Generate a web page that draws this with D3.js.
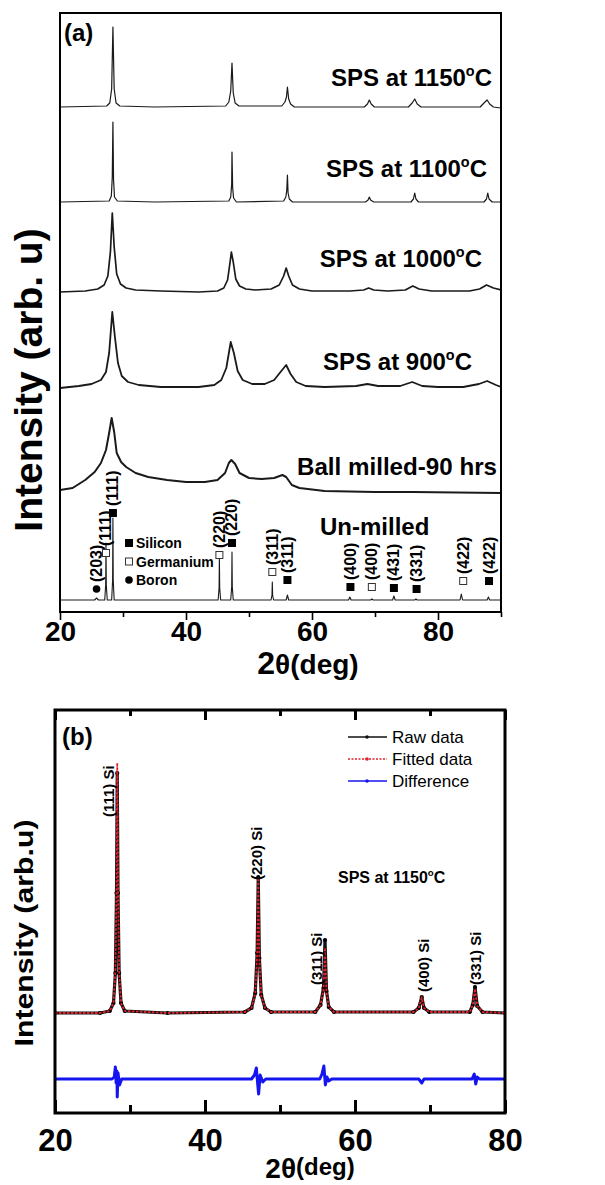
<!DOCTYPE html>
<html>
<head>
<meta charset="utf-8">
<script src="https://cdn.jsdelivr.net/npm/d3@7"></script>
<style>
body { margin: 0; background: #fff; }
text { font-family: "Liberation Sans", Arial, Helvetica, sans-serif; }
</style>
</head>
<body>
<svg id="chart" width="605" height="1185"></svg>
<script>
// ---------- data: panel (a) XRD patterns, [2theta, intensity above own baseline] ----------
const samplesA = ["1150", "1100", "1000", "900", "Ball milled-90 hrs", "Un-milled"];
const offsetsA = [505, 410, 320, 224, 118, 12];

const sps1150 = [[20,0],[27.4,1],[27.9,4],[28.2,18],[28.4,80],[28.6,18],[28.9,4],[29.5,1],[35,0],[46.3,1],[46.8,5],[47.1,16],[47.3,44],[47.5,14],[47.8,4],[48.4,1],[55.2,1],[55.7,5],[55.95,10],[56.1,20],[56.3,8],[56.6,3],[57.2,0],[68.3,0],[68.8,3],[69.1,7],[69.4,3],[69.9,0],[75.3,0],[75.9,4],[76.3,8],[76.7,3],[77.3,0],[86.7,0],[87.3,4],[87.8,7],[88.2,3],[88.8,0],[90,-1]];
const sps1100 = [[20,0],[27.8,1],[28.15,6],[28.3,25],[28.4,80],[28.5,22],[28.65,5],[29.1,1],[35,0],[46.8,1],[47.1,5],[47.25,18],[47.3,50],[47.4,15],[47.55,4],[48,0],[55.5,1],[55.85,5],[56,12],[56.1,27],[56.2,9],[56.4,3],[56.9,0],[68.5,0],[68.9,2],[69.1,5],[69.3,2],[69.8,0],[75.7,0],[76.1,3],[76.3,9],[76.5,3],[76.9,0],[87.3,0],[87.7,3],[87.9,9],[88.1,3],[88.6,0],[90,0]];
const sps1000 = [[20,0],[24,1],[26,3],[27,7],[27.6,16],[28,40],[28.3,79],[28.6,45],[29,18],[29.6,8],[30.5,4],[32,2],[36,1],[42,0],[45,1],[46,4],[46.6,12],[47,30],[47.2,40],[47.5,30],[47.9,13],[48.5,6],[49.5,3],[51,2],[53.5,3],[54.8,7],[55.5,16],[55.9,24],[56.3,16],[56.9,7],[58,3],[60,1],[66,1],[68.2,2],[69,4],[69.8,2],[72,1],[74.8,2],[76,6],[77,3],[79,1],[85,1],[86.6,3],[87.7,7],[88.8,4],[90,2]];
const sps900 = [[20,0],[23,2],[25,4],[26.5,8],[27.3,16],[27.8,35],[28.3,76],[28.7,52],[29.2,25],[29.8,12],[30.8,6],[32.5,3],[36,1],[42,1],[44.5,3],[45.6,8],[46.4,20],[47.1,46],[47.6,35],[48.2,17],[49,8],[50.5,4],[52.5,4],[54,8],[55,16],[55.9,23],[56.6,14],[57.5,6],[59,2],[62,1],[67,2],[68.8,4],[70.5,2],[74,2],[75.9,6],[77.5,2],[80,1],[84,1],[86.5,4],[87.8,7],[89.2,3],[90,1]];
const ballMilled = [[20,4],[22,6],[24,14],[25.5,22],[26.5,31],[27.3,44],[27.8,61],[28.2,76],[28.6,62],[29,41],[29.7,32],[30.5,27],[32,21],[34,17],[37,14],[40,12],[43,12],[45,14],[46.2,21],[46.8,31],[47.2,34],[47.8,30],[48.5,21],[50,16],[52,15],[54,16],[55.3,19],[55.9,17],[56.8,9],[58,6],[62,3],[70,2],[76,2],[90,1]];
const unMilled = [[20,0],[25.5,0],[25.8,2],[26.1,0],[27.1,0],[27.25,15],[27.3,57],[27.35,15],[27.5,0],[28.2,0],[28.35,20],[28.4,82],[28.45,20],[28.6,0],[45.1,0],[45.25,12],[45.3,43],[45.35,12],[45.5,0],[47.1,0],[47.25,13],[47.3,48],[47.35,13],[47.5,0],[53.5,0],[53.65,5],[53.7,18],[53.75,5],[53.9,0],[55.9,0],[56.1,5],[56.3,0],[65.8,0],[66,3],[66.2,0],[69.3,0],[69.5,1],[69.7,0],[72.8,0],[73,4],[73.2,0],[76.3,0],[76.5,1],[76.7,0],[83.5,0],[83.7,6],[83.9,0],[87.8,0],[88,3],[88.2,0],[90,0]];

// reference reflections marked on the un-milled pattern
const refHkl = ["(203)","(111)","(111)","(220)","(220)","(311)","(311)","(400)","(400)","(431)","(331)","(422)","(422)"];
const refPos = [25.8, 27.3, 28.4, 45.3, 47.3, 53.7, 56.1, 66.1, 69.5, 73.0, 76.6, 84.0, 88.1];
const refPhase = ["Boron","Germanium","Silicon","Germanium","Silicon","Germanium","Silicon","Silicon","Germanium","Silicon","Silicon","Germanium","Silicon"];
const refLevel = [11, 47, 87, 45, 57, 28, 20, 13, 13, 12, 11, 19, 19];
const phases = ["Silicon", "Germanium", "Boron"];

const ticksMajorA = [20, 40, 60, 80];
const ticksMinorA = [30, 50, 70, 90];

// ---------- data: panel (b) Rietveld fit of SPS 1150 C ----------
const seriesB = ["Raw data", "Fitted data", "Difference"];
const offsetsB = [100, 100, 34];
const rawData = [[20,0],[26,0],[27.3,2],[27.8,10],[28.05,40],[28.2,120],[28.3,240],[28.4,120],[28.55,40],[28.8,10],[29.3,2],[35,0],[45.3,1],[46.2,5],[46.7,20],[46.95,60],[47.1,136],[47.25,55],[47.5,18],[48,5],[48.8,1],[54.7,1],[55.4,8],[55.8,25],[56.0,73],[56.2,22],[56.5,6],[57.2,1],[67.8,1],[68.5,5],[68.9,16],[69.2,5],[69.9,1],[75.3,1],[75.7,8],[76.0,26],[76.3,7],[77,1],[80,0]];
const fittedData = [[20,0],[26,0],[27.3,2],[27.8,10],[28.05,42],[28.2,125],[28.3,250],[28.4,125],[28.55,42],[28.8,10],[29.3,2],[35,0],[45.3,1],[46.2,5],[46.7,19],[46.95,58],[47.1,135],[47.25,55],[47.5,17],[48,5],[48.8,1],[54.7,1],[55.4,8],[55.8,23],[56.0,65],[56.2,21],[56.5,6],[57.2,1],[67.8,1],[68.5,5],[68.9,15],[69.2,5],[69.9,1],[75.3,1],[75.7,8],[76.0,24],[76.3,7],[77,1],[80,0]];
const difference = [[20,0],[27.6,0],[27.9,2],[28.05,12],[28.15,-4],[28.25,8],[28.3,-18],[28.4,6],[28.6,-6],[28.9,0],[46.2,0],[46.6,4],[46.85,11],[47,-3],[47.15,-15],[47.35,4],[47.7,-3],[48.1,0],[55.3,0],[55.6,5],[55.85,13],[56.05,-6],[56.25,2],[56.5,-2],[56.9,0],[68.5,0],[68.9,-4],[69.2,0],[75.6,0],[75.9,5],[76.1,-5],[76.3,2],[76.6,0],[80,0]];

const peaksB = ["(111) Si", "(220) Si", "(311) Si", "(400) Si", "(331) Si"];
const peakLabelPosB = [27.1, 46.8, 54.9, 69.1, 76.1];
const peakLabelLevelB = [296, 233, 128, 121, 128];

const ticksMajorB = [20, 40, 60, 80];
const ticksMinorB = [30, 50, 70];

// ---------- drawing ----------
const svg = d3.select("#chart");
const bold = "bold";

function degreeLabel(g, x, y, size, txt, anchor) {
  const t = g.append("text")
    .attr("x", x).attr("y", y)
    .attr("font-size", size).attr("font-weight", bold)
    .attr("text-anchor", anchor);
  t.append("tspan").text(txt);
  t.append("tspan").attr("font-size", size * 0.6).attr("dy", -size * 0.42).text("o");
  t.append("tspan").attr("dy", size * 0.42).text("C");
  return t;
}

// ===== panel (a) =====
const xA = d3.scaleLinear().domain([20, 90]).range([60, 501]);
const yA = d3.scaleLinear().domain([0, 600]).range([612, 12]);

svg.append("clipPath").attr("id", "clipA")
  .append("rect").attr("x", 60).attr("y", 13).attr("width", 441).attr("height", 599);

const gA = svg.append("g").attr("clip-path", "url(#clipA)");
const tracesA = [sps1150, sps1100, sps1000, sps900, ballMilled, unMilled];
const widthsA = [1.2, 1.2, 1.7, 1.8, 2, 1.1];

tracesA.forEach((tr, i) => {
  const line = d3.line()
    .x(d => xA(d[0]))
    .y(d => yA(d[1] + offsetsA[i]));
  gA.append("path")
    .datum(tr)
    .attr("fill", "none")
    .attr("stroke", "#1a1a1a")
    .attr("stroke-width", widthsA[i])
    .attr("stroke-linejoin", "round")
    .attr("d", line);
});

// frame
svg.append("rect")
  .attr("x", 60).attr("y", 13).attr("width", 441).attr("height", 599)
  .attr("fill", "none").attr("stroke", "#000").attr("stroke-width", 2);

// axis (a)
const axA = svg.append("g")
  .attr("transform", "translate(0,612)")
  .call(d3.axisBottom(xA).tickValues(ticksMajorA).tickSize(8).tickSizeOuter(0).tickPadding(1));
axA.select(".domain").remove();
axA.attr("font-family", null).attr("font-size", 28).attr("font-weight", bold);
axA.selectAll("line").attr("stroke-width", 1.6);

const axAm = svg.append("g")
  .attr("transform", "translate(0,612)")
  .call(d3.axisBottom(xA).tickValues(ticksMinorA).tickSize(5).tickSizeOuter(0).tickFormat(""));
axAm.select(".domain").remove();
axAm.selectAll("line").attr("stroke-width", 1.6);

// axis titles (a)
const xtA = svg.append("text")
  .attr("x", 308).attr("y", 674)
  .attr("text-anchor", "middle").attr("font-weight", bold).attr("font-size", 32);
xtA.append("tspan").text("2");
xtA.append("tspan").attr("font-size", 28).text("θ(deg)");

svg.append("text")
  .attr("transform", "translate(42,380) rotate(-90)")
  .attr("text-anchor", "middle")
  .attr("font-size", 39).attr("font-weight", bold)
  .text("Intensity (arb. u)");

svg.append("text").attr("x", 64).attr("y", 41)
  .attr("font-size", 24).attr("font-weight", bold).text("(a)");

// sample labels
const labA = svg.append("g");
degreeLabel(labA, 492, 86, 24, "SPS at " + samplesA[0], "end");
degreeLabel(labA, 487, 177, 24, "SPS at " + samplesA[1], "end");
degreeLabel(labA, 482, 267, 24, "SPS at " + samplesA[2], "end");
degreeLabel(labA, 472, 370, 24, "SPS at " + samplesA[3], "end");
labA.append("text").attr("x", 497).attr("y", 475).attr("text-anchor", "end")
  .attr("font-size", 24).attr("font-weight", bold)
  .attr("textLength", 200).attr("lengthAdjust", "spacingAndGlyphs")
  .text(samplesA[4]);
labA.append("text").attr("x", 320).attr("y", 535)
  .attr("font-size", 24).attr("font-weight", bold).text(samplesA[5]);

// reflection markers
function marker(g, phase, cx, cy) {
  if (phase === "Boron") {
    g.append("circle").attr("cx", cx).attr("cy", cy).attr("r", 3.8).attr("fill", "#000");
  } else if (phase === "Silicon") {
    g.append("rect").attr("x", cx - 4).attr("y", cy - 4).attr("width", 8).attr("height", 8).attr("fill", "#000");
  } else {
    g.append("rect").attr("x", cx - 3.5).attr("y", cy - 3.5).attr("width", 7).attr("height", 7)
      .attr("fill", "#fff").attr("stroke", "#333").attr("stroke-width", 1);
  }
}

const refG = svg.append("g");
refHkl.forEach((h, i) => {
  const cx = xA(refPos[i]);
  const cy = yA(refLevel[i] + offsetsA[5]);
  marker(refG, refPhase[i], cx, cy);
  refG.append("text")
    .attr("transform", `translate(${cx + 5.5},${cy - 7}) rotate(-90)`)
    .attr("font-size", 16).attr("font-weight", bold)
    .text(h);
});

// legend (a)
const legA = svg.append("g");
phases.forEach((p, i) => {
  const y = 548 + i * 18.5;
  marker(legA, p, 129, y - 5);
  legA.append("text").attr("x", 136).attr("y", y)
    .attr("font-size", 14).attr("font-weight", bold).text(p);
});

// ===== panel (b) =====
const xB = d3.scaleLinear().domain([20, 80]).range([55, 505]);
const yB = d3.scaleLinear().domain([0, 400]).range([1113, 713]);

svg.append("clipPath").attr("id", "clipB")
  .append("rect").attr("x", 55).attr("y", 710).attr("width", 450).attr("height", 403);
const gB = svg.append("g").attr("clip-path", "url(#clipB)");

const lineB = off => d3.line().x(d => xB(d[0])).y(d => yB(d[1] + off));

// raw data: black with dots
gB.append("path").datum(rawData)
  .attr("fill", "none").attr("stroke", "#111").attr("stroke-width", 3.2)
  .attr("stroke-linejoin", "round").attr("d", lineB(offsetsB[0]));
gB.selectAll(".rawdot").data(rawData).enter().append("circle")
  .attr("cx", d => xB(d[0])).attr("cy", d => yB(d[1] + offsetsB[0]))
  .attr("r", 2.1).attr("fill", "#000");
// fitted: red dotted
gB.append("path").datum(fittedData)
  .attr("fill", "none").attr("stroke", "#e0202a").attr("stroke-width", 1.8)
  .attr("stroke-dasharray", "2.5,1.5").attr("d", lineB(offsetsB[1]));
// difference: blue
gB.append("path").datum(difference)
  .attr("fill", "none").attr("stroke", "#1515f0").attr("stroke-width", 3)
  .attr("stroke-linejoin", "round").attr("d", lineB(offsetsB[2]));

svg.append("rect")
  .attr("x", 55).attr("y", 710).attr("width", 450).attr("height", 403)
  .attr("fill", "none").attr("stroke", "#000").attr("stroke-width", 3);

// axes (b): inward ticks bottom and top
const axB = svg.append("g").attr("transform", "translate(0,1113)")
  .call(d3.axisBottom(xB).tickValues(ticksMajorB).tickSize(-13).tickSizeOuter(0).tickPadding(16));
axB.select(".domain").remove();
axB.attr("font-family", null).attr("font-size", 31).attr("font-weight", bold);
axB.selectAll("line").attr("stroke-width", 3);

const axBm = svg.append("g").attr("transform", "translate(0,1113)")
  .call(d3.axisBottom(xB).tickValues(ticksMinorB).tickSize(-8).tickSizeOuter(0).tickFormat(""));
axBm.select(".domain").remove();
axBm.selectAll("line").attr("stroke-width", 3);

const axBt = svg.append("g").attr("transform", "translate(0,710)")
  .call(d3.axisTop(xB).tickValues(ticksMajorB).tickSize(-10).tickSizeOuter(0).tickFormat(""));
axBt.select(".domain").remove();
axBt.selectAll("line").attr("stroke-width", 3);
const axBtm = svg.append("g").attr("transform", "translate(0,710)")
  .call(d3.axisTop(xB).tickValues(ticksMinorB).tickSize(-6).tickSizeOuter(0).tickFormat(""));
axBtm.select(".domain").remove();
axBtm.selectAll("line").attr("stroke-width", 3);

// axis titles (b)
const xtB = svg.append("text")
  .attr("x", 310).attr("y", 1178)
  .attr("text-anchor", "middle").attr("font-weight", bold).attr("font-size", 28);
xtB.append("tspan").text("2θ");
xtB.append("tspan").attr("font-size", 24).attr("dy", -3).text("(deg)");

svg.append("text")
  .attr("transform", "translate(33,933) rotate(-90)")
  .attr("text-anchor", "middle")
  .attr("font-size", 26).attr("font-weight", bold)
  .attr("textLength", 227).attr("lengthAdjust", "spacingAndGlyphs")
  .text("Intensity (arb.u)");

svg.append("text").attr("x", 62).attr("y", 745)
  .attr("font-size", 24).attr("font-weight", bold).text("(b)");

degreeLabel(svg, 338, 883, 16, "SPS at 1150", "start");

// peak labels (b)
peaksB.forEach((p, i) => {
  svg.append("text")
    .attr("transform", `translate(${xB(peakLabelPosB[i]) + 5.5},${yB(peakLabelLevelB[i])}) rotate(-90)`)
    .attr("font-size", 15).attr("font-weight", bold)
    .text(p);
});

// legend (b)
const legColors = ["#111", "#e0202a", "#1515f0"];
const legB = svg.append("g");
seriesB.forEach((s, i) => {
  const y = 743 + i * 22;
  legB.append("line").attr("x1", 348).attr("x2", 387).attr("y1", y - 6).attr("y2", y - 6)
    .attr("stroke", legColors[i]).attr("stroke-width", 1.3)
    .attr("stroke-dasharray", i === 1 ? "2,1.5" : null);
  legB.append("circle").attr("cx", 367).attr("cy", y - 6).attr("r", 1.8).attr("fill", legColors[i]);
  legB.append("text").attr("x", 392).attr("y", y)
    .attr("font-size", 17).text(s);
});
</script>
</body>
</html>
